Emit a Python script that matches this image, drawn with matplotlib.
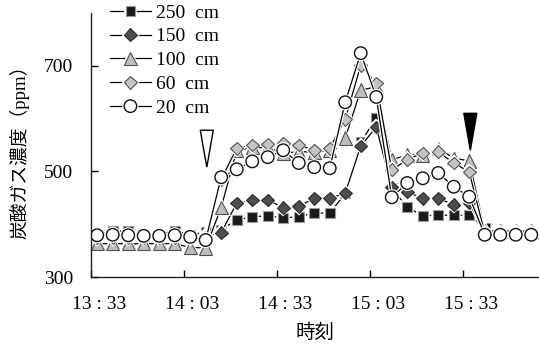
import numpy as np
import matplotlib
matplotlib.use("Agg")
import matplotlib.pyplot as plt
import matplotlib.patheffects as pe
import matplotlib.transforms as mtransforms
from matplotlib.patches import Polygon

plt.rcParams['font.family'] = ['Liberation Serif', 'Noto Sans CJK JP']

# sampling times (every 5 min)
times = ['13:35', '13:40', '13:45', '13:50', '13:55', '14:00', '14:05', '14:10',
         '14:15', '14:20', '14:25', '14:30', '14:35', '14:40', '14:45', '14:50',
         '14:55', '15:00', '15:05', '15:10', '15:15', '15:20', '15:25', '15:30',
         '15:35', '15:40', '15:45', '15:50', '15:55']

# CO2 concentration (ppm) at each height
co2_250 = [380, 387, 387, 378, 380, 388, 380, 385, 390, 408, 414, 416, 412, 414, 421,
           421, 458, 555, 601, 468, 432, 416, 417, 417, 417, 393, 382, 382, 382]
co2_150 = [375, 376, 376, 375, 375, 376, 376, 378, 384, 440, 446, 446, 431, 434, 449,
           449, 459, 548, 584, 470, 461, 449, 449, 437, 440, 385, 382, 382, 382]
co2_100 = [363, 363, 363, 363, 363, 363, 356, 355, 432, 540, 545, 545, 535, 537, 537,
           540, 563, 654, 660, 522, 531, 531, 544, 525, 520, 387, 387, 387, 387]
co2_60 = [375, 375, 375, 375, 375, 375, 375, 375, 485, 544, 550, 552, 554, 550, 540,
          544, 599, 701, 667, 503, 522, 535, 537, 516, 499, 383, 382, 382, 382]
co2_20 = [379, 380, 379, 378, 378, 379, 376, 370, 489, 504, 519, 527, 540, 516, 508,
          506, 631, 724, 641, 451, 478, 487, 497, 471, 452, 380, 380, 380, 380]

labels = ['250  cm', '150  cm', '100  cm', '60  cm', '20  cm']
tick_times = ['13:33', '14:03', '14:33', '15:03', '15:33']

# open / close markers: (time, top ppm, tip ppm)
start_mark = ('14:10', 578, 508)
end_mark = ('15:35', 610, 540)


def minutes(t, t0='13:33'):
    h, m = map(int, t.split(':'))
    h0, m0 = map(int, t0.split(':'))
    return (h * 60 + m) - (h0 * 60 + m0) + 0.0


x = np.array([minutes(t) for t in times])

fig = plt.figure(figsize=(5.39, 3.45), dpi=100)
ax = fig.add_axes([91 / 539, 68 / 345, 1 - 91 / 539, (277 - 13) / 345])

halo = [pe.Stroke(linewidth=2.6, foreground='white'), pe.Normal()]
styles = [
    dict(marker='s', ms=7.0, mfc='#1a1a1a', mec='#9a9a9a', mew=0.8),
    dict(marker='D', ms=6.5, mfc='#4d4d4d', mec='#2a2a2a', mew=0.8),
    dict(marker='^', ms=9.6, mfc='#bdbdbd', mec='#505050', mew=0.8),
    dict(marker='D', ms=6.5, mfc='#c4c4c4', mec='#505050', mew=0.8),
    dict(marker='o', ms=9.0, mfc='white', mec='#111111', mew=1.0),
]
series = [co2_250, co2_150, co2_100, co2_60, co2_20]
for vals, lab, st in zip(series, labels, styles):
    ax.plot(x, vals, color='black', lw=0.9, label=lab, path_effects=halo, **st)

# event markers
for (t, top, tip), fc in [(start_mark, 'white'), (end_mark, 'black')]:
    xc = minutes(t) + 0.35
    hw = 2.1
    ax.add_patch(Polygon([[xc - hw, top], [xc + hw, top], [xc, tip]],
                         closed=True, facecolor=fc, edgecolor='black', lw=1.0, zorder=5))

ax.set_xlim(0, 144.5)
ax.set_ylim(300, 800)
ax.set_xticks([minutes(t) for t in tick_times])
ax.set_xticklabels([t.replace(':', ' : ') for t in tick_times])
ax.set_yticks([300, 500, 700])
ax.tick_params(direction='in', length=5, width=1, labelsize=14)
ax.tick_params(axis='x', pad=14)
ax.tick_params(axis='y', pad=13)
shift = mtransforms.ScaledTranslation(8 / 100, 0, fig.dpi_scale_trans)
for lab in ax.get_xticklabels():
    lab.set_transform(lab.get_transform() + shift)
for s in ['top', 'right']:
    ax.spines[s].set_visible(False)
for s in ['left', 'bottom']:
    ax.spines[s].set_linewidth(1.0)
    ax.spines[s].set_color('#222222')

ax.set_xlabel('時刻', fontsize=14, family='Noto Sans CJK JP', labelpad=6)
fig.text(19 / 539, 1 - 147 / 345, '炭酸ガス濃度（ppm）', rotation=90,
         ha='center', va='center', fontsize=13.5)

leg = ax.legend(loc='upper left', bbox_to_anchor=(110 / 539, 1 - 4 / 345),
                bbox_transform=fig.transFigure, frameon=False, fontsize=14,
                handlelength=2.1, handletextpad=0.25, labelspacing=0.32,
                borderpad=0, borderaxespad=0, numpoints=1)

fig.savefig('out.png', dpi=100)
